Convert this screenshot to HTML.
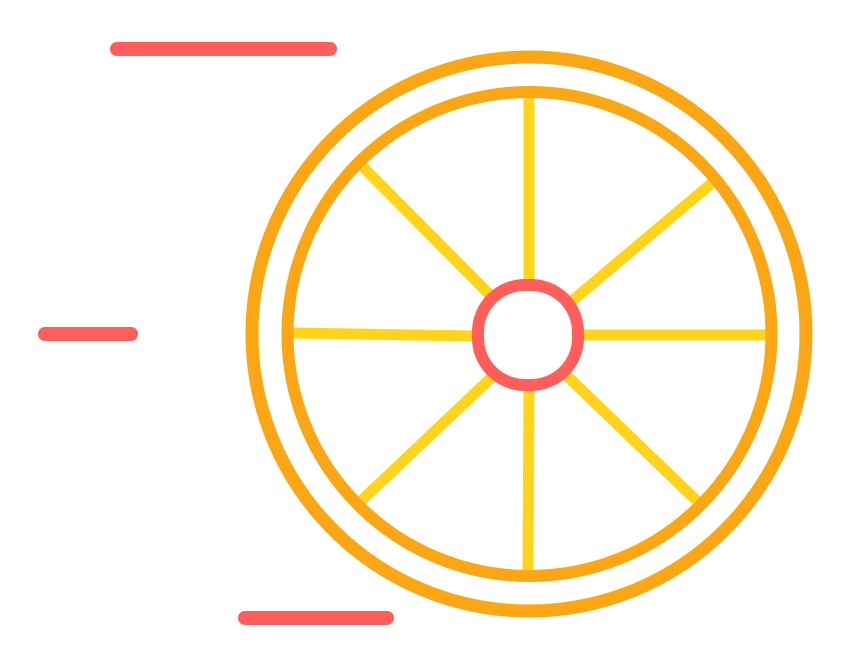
<!DOCTYPE html>
<html>
<head>
<meta charset="utf-8">
<style>
html,body{margin:0;padding:0;background:#fff;}
svg{display:block;}
</style>
</head>
<body>
<svg width="850" height="663" viewBox="0 0 850 663">
  <g stroke="#FF5E5B" stroke-width="14" stroke-linecap="round">
    <line x1="117" y1="49" x2="330" y2="49"/>
    <line x1="45" y1="334" x2="131" y2="334"/>
    <line x1="245" y1="618" x2="387" y2="618"/>
  </g>
  <g stroke="#FFD41A" stroke-width="11" stroke-linecap="butt">
    <line x1="529" y1="96" x2="529" y2="282"/>
    <line x1="712" y1="183" x2="572" y2="301"/>
    <line x1="767" y1="335" x2="582" y2="335"/>
    <line x1="697" y1="501" x2="566" y2="375"/>
    <line x1="528" y1="570" x2="529" y2="388"/>
    <line x1="361" y1="501" x2="492" y2="377"/>
    <line x1="293" y1="333" x2="474" y2="336"/>
    <line x1="361" y1="165" x2="491" y2="296"/>
  </g>
  <circle cx="529" cy="334" r="277" fill="none" stroke="#FBA614" stroke-width="13"/>
  <circle cx="529.5" cy="334" r="242" fill="none" stroke="#FBA614" stroke-width="12"/>
  <rect x="478" y="285" width="100" height="100" rx="47" ry="47" fill="#fff" stroke="#FF5E5B" stroke-width="12"/>
</svg>
</body>
</html>
